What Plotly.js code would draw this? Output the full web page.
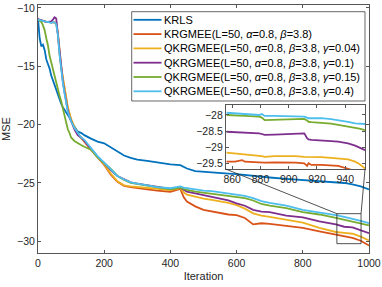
<!DOCTYPE html>
<html>
<head>
<meta charset="utf-8">
<script src="https://cdn.plot.ly/plotly-3.0.1.min.js"></script>
<style>html,body{margin:0;padding:0;background:#fff;}#chart{width:382px;height:287px;}</style>
</head>
<body>
<div id="chart"></div>
<script>
// ---- data ----
const iter = [0,5,10,15,20,25,30,35,40,45,50,55,60,65,70,75,80,85,90,95,100,110,120,130,140,160,180,200,220,240,260,280,300,330,360,400,430,440,450,475,500,525,550,575,600,625,650,675,700,750,800,850,900,925,950,975,1000];

const krls = [-10.9,-12.6,-13.3,-13.15,-13.6,-14.4,-14.8,-15.2,-15.8,-16.2,
  -16.7,-17.1,-17.5,-17.8,-18.2,-18.5,-18.7,-18.9,-19.1,-19.4,
  -19.7,-20.2,-20.6,-20.7,-20.9,-21.2,-21.45,-21.6,-21.95,-22.3,
  -22.65,-22.85,-23.0,-23.1,-23.25,-23.4,-23.47,-23.6,-23.76,-23.98,
  -24.05,-24.1,-24.15,-24.2,-24.25,-24.33,-24.4,-24.5,-24.53,-24.65,
  -24.75,-24.85,-24.95,-25.0,-25.12,-25.3,-25.55];

const krgmee = [-11.0,-11.05,-11.1,-11.1,-11.15,-11.2,-11.2,-11.2,-11.25,-11.2,
  -11.25,-11.3,-12.2,-13.9,-15.1,-16.1,-16.9,-17.9,-18.6,-19.1,
  -19.6,-20.3,-20.8,-21.15,-21.5,-22.1,-22.8,-23.45,-24.3,-24.9,
  -25.25,-25.35,-25.45,-25.55,-25.65,-25.75,-25.5,-26.2,-26.6,-27.0,
  -27.3,-27.45,-27.6,-27.7,-27.75,-28.0,-28.55,-28.45,-28.5,-28.65,
  -28.85,-29.15,-29.45,-29.55,-29.7,-29.95,-30.35];

const qk004 = [-11.0,-11.05,-11.1,-11.15,-11.15,-11.2,-11.2,-11.25,-11.25,-11.2,
  -11.25,-11.3,-12.1,-13.7,-15.0,-15.9,-16.7,-17.8,-18.5,-19.0,
  -19.5,-20.2,-20.75,-21.1,-21.45,-22.05,-22.75,-23.4,-24.2,-24.85,
  -25.2,-25.3,-25.35,-25.4,-25.5,-25.6,-25.45,-25.8,-26.0,-26.2,
  -26.35,-26.45,-26.55,-26.7,-26.9,-27.2,-27.6,-27.8,-27.9,-28.15,
  -28.4,-28.85,-29.2,-29.28,-29.35,-29.6,-29.92];

const qk01 = [-10.95,-11.0,-11.1,-11.1,-11.15,-11.2,-11.2,-11.2,-11.15,-11.0,
  -10.8,-10.9,-12.2,-13.8,-15.2,-16.3,-17.2,-18.2,-18.8,-19.3,
  -19.7,-20.4,-20.9,-21.1,-21.4,-22.1,-22.75,-23.3,-23.9,-24.4,
  -24.7,-24.95,-25.05,-25.2,-25.35,-25.5,-25.4,-25.6,-25.75,-25.9,
  -26.05,-26.15,-26.3,-26.5,-26.75,-26.95,-27.3,-27.45,-27.5,-27.8,
  -27.95,-28.3,-28.55,-28.75,-28.8,-29.05,-29.3];

const qk015 = [-11.0,-11.1,-11.2,-11.5,-11.9,-12.6,-13.2,-14.1,-14.7,-15.2,
  -15.8,-16.4,-16.9,-17.5,-18.0,-18.6,-19.0,-19.7,-20.4,-20.7,
  -21.1,-21.4,-21.6,-21.75,-21.9,-22.15,-22.8,-23.3,-23.8,-24.4,
  -24.75,-25.0,-25.1,-25.25,-25.4,-25.55,-25.4,-25.5,-25.6,-25.75,
  -25.85,-25.9,-26.0,-26.1,-26.2,-26.3,-26.5,-26.8,-26.95,-27.15,
  -27.5,-27.7,-28.0,-28.15,-28.3,-28.45,-28.63];

const qk04 = [-11.0,-11.05,-11.1,-11.1,-11.15,-11.2,-11.2,-11.25,-11.3,-11.2,
  -11.25,-11.4,-12.3,-14.0,-15.3,-16.4,-17.3,-18.3,-18.9,-19.3,
  -19.7,-20.3,-20.7,-21.1,-21.3,-22.0,-22.7,-23.25,-23.85,-24.4,
  -24.7,-24.95,-25.05,-25.2,-25.35,-25.45,-25.3,-25.4,-25.45,-25.55,
  -25.65,-25.7,-25.8,-25.9,-26.0,-26.1,-26.3,-26.55,-26.7,-26.95,
  -27.3,-27.5,-27.75,-27.9,-28.05,-28.25,-28.45];

// inset (zoomed view) values
const insetIter = [856,862,867,869,879,881,883,890,900,905,911,913,914,916,923,930,935,942,947,950,954];
const insetKrgmee = [-29.45,-29.45,-29.40,-29.45,-29.47,-29.48,-29.48,-29.47,-29.47,-29.48,-29.5,-29.58,-29.5,-29.55,-29.55,-29.57,-29.58,-29.67,-29.76,-29.8,-29.85];
const insetQk004 = [-29.17,-29.19,-29.21,-29.22,-29.27,-29.28,-29.30,-29.28,-29.27,-29.28,-29.30,-29.30,-29.30,-29.31,-29.31,-29.33,-29.35,-29.38,-29.45,-29.52,-29.66];
const insetQk01 = [-28.52,-28.53,-28.54,-28.55,-28.57,-28.59,-28.62,-28.61,-28.59,-28.58,-28.57,-28.72,-28.76,-28.77,-28.78,-28.81,-28.83,-28.88,-28.95,-29.0,-29.09];
const insetQk015 = [-28.0,-28.02,-28.03,-28.03,-28.05,-28.08,-28.16,-28.15,-28.13,-28.13,-28.12,-28.17,-28.21,-28.22,-28.24,-28.27,-28.31,-28.36,-28.39,-28.42,-28.47];
const insetQk04 = [-27.93,-27.95,-27.97,-27.97,-28.0,-27.97,-28.03,-28.03,-28.03,-28.04,-28.05,-28.08,-28.1,-28.1,-28.1,-28.13,-28.16,-28.21,-28.26,-28.27,-28.28];

const names = [
  'KRLS',
  'KRGMEE(L=50, <i>α</i>=0.8, <i>β</i>=3.8)',
  'QKRGMEE(L=50, <i>α</i>=0.8, <i>β</i>=3.8, <i>γ</i>=0.04)',
  'QKRGMEE(L=50, <i>α</i>=0.8, <i>β</i>=3.8, <i>γ</i>=0.1)',
  'QKRGMEE(L=50, <i>α</i>=0.8, <i>β</i>=3.8, <i>γ</i>=0.15)',
  'QKRGMEE(L=50, <i>α</i>=0.8, <i>β</i>=3.8, <i>γ</i>=0.4)'
];
const colors = ['#0072BD','#D95319','#EDB120','#7E2F8E','#77AC30','#4DBEEE'];
const mainSeries = [krls, krgmee, qk004, qk01, qk015, qk04];
const insetSeries = [null, insetKrgmee, insetQk004, insetQk01, insetQk015, insetQk04];

const FONT = 'Liberation Sans, Arial, Helvetica, sans-serif';
const LW = 1.8;
const traces = [];
mainSeries.forEach((s, i) => {
  traces.push({x: iter, y: s, type: 'scatter', mode: 'lines', name: names[i], showlegend: false,
    line: {color: colors[i], width: LW}, xaxis: 'x', yaxis: 'y'});
});
insetSeries.forEach((s, i) => {
  if (!s) return;
  traces.push({x: insetIter, y: s, type: 'scatter', mode: 'lines', showlegend: false,
    line: {color: colors[i], width: LW}, xaxis: 'x2', yaxis: 'y2'});
});

const W = 382, H = 287, M = {l: 38, r: 13, t: 5, b: 34};
const plotW = W - M.l - M.r, plotH = H - M.t - M.b;
const toPX = p => (p - M.l) / plotW;        // pixel x -> paper x
const toPY = p => 1 - (p - M.t) / plotH;    // pixel y -> paper y

const xr = [0, 1000], yr = [-31, -9.75];
const insetDom = {x: [0.5675, 0.988], y: [0.3383, 0.598]};
const rect = {x0: 903, x1: 976, y0: -30.2, y1: -27.63};
const px = v => (v - xr[0]) / (xr[1] - xr[0]);
const py = v => (v - yr[0]) / (yr[1] - yr[0]);
const edge = '#262626';

// custom legend (box, sample lines, labels)
const leg = {left: 131.7, right: 365, top: 11.7, bottom: 101, row0: 19.8, rowH: 14.3, l0: 133.5, l1: 161.5, tx: 163.3};
const shapes = [
  {type: 'rect', xref: 'x', yref: 'y', x0: rect.x0, x1: rect.x1, y0: rect.y0, y1: rect.y1,
    line: {color: edge, width: 0.8}},
  {type: 'line', xref: 'paper', yref: 'paper', x0: px(rect.x0), y0: py(rect.y1), x1: insetDom.x[0], y1: insetDom.y[0],
    line: {color: edge, width: 0.8}},
  {type: 'line', xref: 'paper', yref: 'paper', x0: px(rect.x1), y0: py(rect.y1), x1: insetDom.x[1], y1: insetDom.y[0],
    line: {color: edge, width: 0.8}},
  {type: 'rect', xref: 'paper', yref: 'paper', x0: toPX(leg.left), x1: toPX(leg.right), y0: toPY(leg.bottom), y1: toPY(leg.top),
    fillcolor: '#fff', line: {color: edge, width: 0.7}}
];
const annotations = [];
names.forEach((n, i) => {
  const yy = toPY(leg.row0 + i * leg.rowH);
  shapes.push({type: 'line', xref: 'paper', yref: 'paper', x0: toPX(leg.l0), x1: toPX(leg.l1), y0: yy, y1: yy,
    line: {color: colors[i], width: LW}});
  annotations.push({xref: 'paper', yref: 'paper', x: toPX(leg.tx), y: yy, xanchor: 'left', yanchor: 'middle',
    text: n, showarrow: false, font: {family: FONT, size: 11, color: '#000'}, borderpad: 0});
});

const axisCommon = {
  showline: true, linecolor: '#555', linewidth: 1, mirror: 'ticks',
  ticks: 'inside', ticklen: 3, tickcolor: '#555', showgrid: false, zeroline: false,
  tickfont: {family: FONT, size: 10.5, color: '#262626'}
};

const layout = {
  width: W, height: H,
  margin: M,
  paper_bgcolor: '#fff', plot_bgcolor: '#fff',
  font: {family: FONT, color: '#262626'},
  showlegend: false,
  xaxis: Object.assign({}, axisCommon, {domain: [0, 1], range: xr, tickvals: [0,200,400,600,800,1000],
    anchor: 'y', title: {text: 'Iteration', font: {family: FONT, size: 11, color: '#262626'}, standoff: 4}}),
  yaxis: Object.assign({}, axisCommon, {domain: [0, 1], range: yr, tickvals: [-30,-25,-20,-15,-10],
    anchor: 'x', title: {text: 'MSE', font: {family: FONT, size: 11, color: '#262626'}, standoff: 6}}),
  xaxis2: Object.assign({}, axisCommon, {domain: insetDom.x, range: [855.5, 954], tickvals: [860,880,900,920,940], anchor: 'y2'}),
  yaxis2: Object.assign({}, axisCommon, {domain: insetDom.y, range: [-29.68, -27.68], tickvals: [-29.5,-29,-28.5,-28], anchor: 'x2'}),
  shapes: shapes,
  annotations: annotations
};

Plotly.newPlot('chart', traces, layout, {staticPlot: true, displayModeBar: false});
</script>
</body>
</html>
